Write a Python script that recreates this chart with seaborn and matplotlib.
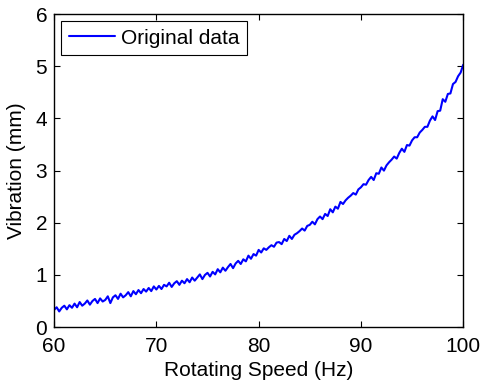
import seaborn as sns
import matplotlib.pyplot as plt
import pandas as pd
import numpy as np

# values (0.25 Hz steps)
speed = np.linspace(60.0, 100.0, 161)
vibration = [0.33, 0.38, 0.30, 0.37, 0.41, 0.34, 0.42, 0.37,
             0.45, 0.38, 0.48, 0.41, 0.45, 0.51, 0.43, 0.50,
             0.54, 0.46, 0.55, 0.49, 0.52, 0.59, 0.46, 0.57,
             0.61, 0.54, 0.64, 0.57, 0.61, 0.67, 0.59, 0.69,
             0.63, 0.71, 0.65, 0.73, 0.68, 0.75, 0.69, 0.78,
             0.72, 0.79, 0.73, 0.81, 0.78, 0.85, 0.77, 0.84,
             0.88, 0.81, 0.89, 0.84, 0.92, 0.86, 0.95, 0.89,
             0.95, 1.01, 0.92, 1.00, 1.04, 0.97, 1.06, 1.01,
             1.11, 1.05, 1.14, 1.08, 1.15, 1.21, 1.13, 1.22,
             1.27, 1.21, 1.30, 1.26, 1.37, 1.31, 1.40, 1.37,
             1.48, 1.43, 1.51, 1.48, 1.53, 1.57, 1.54, 1.62,
             1.63, 1.59, 1.69, 1.65, 1.75, 1.69, 1.77, 1.80,
             1.84, 1.89, 1.85, 1.94, 1.96, 2.02, 1.97, 2.07,
             2.12, 2.07, 2.17, 2.13, 2.26, 2.20, 2.31, 2.27,
             2.40, 2.36, 2.43, 2.48, 2.52, 2.57, 2.54, 2.64,
             2.68, 2.74, 2.73, 2.82, 2.88, 2.82, 2.95, 2.94,
             3.06, 3.00, 3.10, 3.16, 3.21, 3.27, 3.23, 3.34,
             3.42, 3.36, 3.49, 3.48, 3.58, 3.64, 3.64, 3.73,
             3.78, 3.84, 3.84, 3.96, 4.04, 3.97, 4.14, 4.15,
             4.37, 4.32, 4.47, 4.48, 4.66, 4.70, 4.81, 4.88,
             5.03]

df = pd.DataFrame({"Rotating Speed (Hz)": speed, "Vibration (mm)": vibration})

sns.set_style("ticks")
plt.rcParams['font.family'] = ['Liberation Sans', 'DejaVu Sans']
plt.rcParams['xtick.direction'] = 'in'
plt.rcParams['ytick.direction'] = 'in'
plt.rcParams['text.color'] = 'black'
plt.rcParams['axes.labelcolor'] = 'black'
plt.rcParams['xtick.color'] = 'black'
plt.rcParams['ytick.color'] = 'black'

fig = plt.figure(figsize=(4.83, 3.83), dpi=100)
ax = fig.add_axes([0.112, 0.146, 0.847, 0.817])

sns.lineplot(data=df, x="Rotating Speed (Hz)", y="Vibration (mm)", ax=ax,
             color=(0, 0, 1), linewidth=1.5, label="Original data")

ax.set_xlim(60, 100)
ax.set_ylim(0, 6)
ax.set_xticks([60, 70, 80, 90, 100])
ax.set_yticks([0, 1, 2, 3, 4, 5, 6])
ax.tick_params(labelsize=15, length=4, width=0.8, top=True, right=True)
ax.tick_params(axis='x', pad=7)
ax.tick_params(axis='y', pad=5)
ax.set_xlabel("Rotating Speed (Hz)", fontsize=15, labelpad=4)
ax.set_ylabel("Vibration (mm)", fontsize=15, labelpad=7)
for s in ax.spines.values():
    s.set_linewidth(1.0)
    s.set_color('black')

leg = ax.legend(loc='upper left', fontsize=15, frameon=True, fancybox=False,
                edgecolor='black', framealpha=1, handlelength=2.2,
                borderpad=0.35, handletextpad=0.3, borderaxespad=0.35)
leg.get_frame().set_linewidth(0.8)

fig.savefig("out.png", dpi=100)
